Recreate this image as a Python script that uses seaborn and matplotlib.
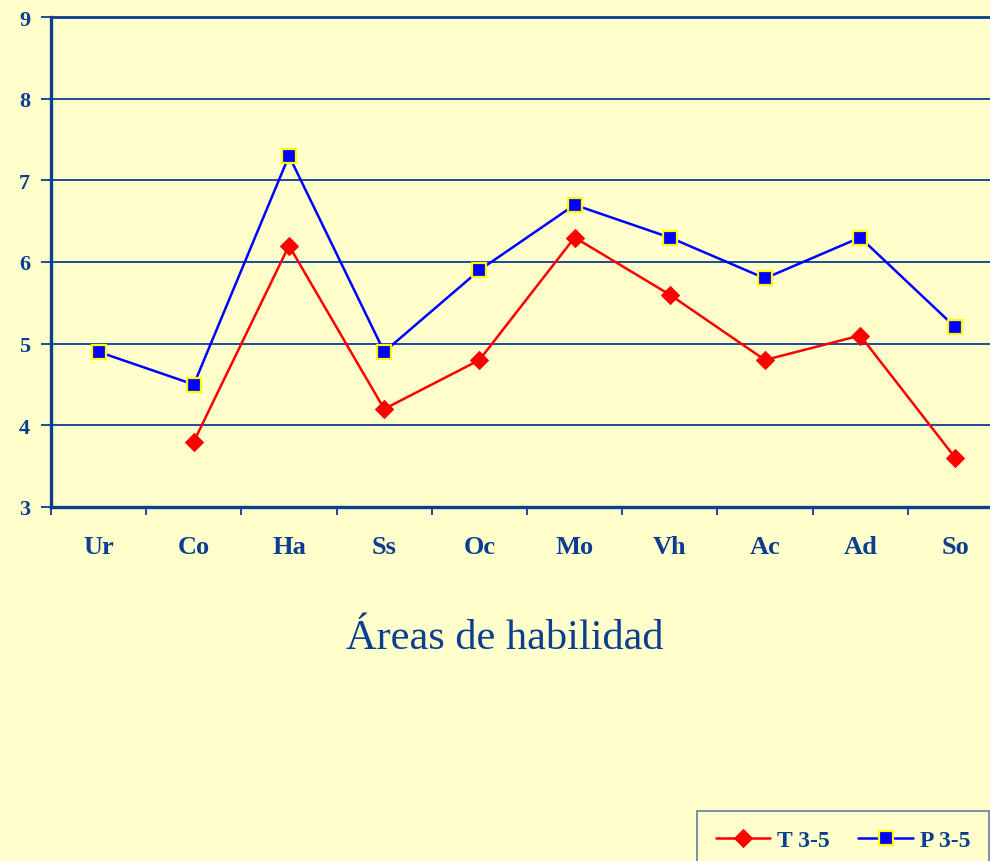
import matplotlib

matplotlib.use("Agg")
import matplotlib.pyplot as plt
import numpy as np
import pandas as pd
import seaborn as sns
from matplotlib.ticker import FixedLocator

# Data
areas = ["Ur", "Co", "Ha", "Ss", "Oc", "Mo", "Vh", "Ac", "Ad", "So"]
t_values = [np.nan, 3.8, 6.2, 4.2, 4.8, 6.3, 5.6, 4.8, 5.1, 3.6]
p_values = [4.9, 4.5, 7.3, 4.9, 5.9, 6.7, 6.3, 5.8, 6.3, 5.2]
series_names = ["T 3-5", "P 3-5"]
y_ticks = [3, 4, 5, 6, 7, 8, 9]

bg = "#ffffcc"
navy = "#0b3d91"

sns.set_theme(style="white")
plt.rcParams["font.family"] = ["Liberation Serif", "DejaVu Serif"]

df = pd.DataFrame({"x": np.arange(len(areas)), "T": t_values, "P": p_values})

fig = plt.figure(figsize=(9.9, 8.62), dpi=100, facecolor=bg)
ax = fig.add_axes([51 / 990, 1 - 508 / 862, 952 / 990, 490 / 862])
ax.set_facecolor(bg)

for y in y_ticks[1:]:
    ax.axhline(y, color=navy, lw=1.3, zorder=1)

sns.lineplot(data=df, x="x", y="T", ax=ax, color="#ff0000", lw=1.8,
             marker="D", markersize=9, markeredgecolor="#ff0000",
             label=series_names[0], zorder=3)
sns.lineplot(data=df, x="x", y="P", ax=ax, color="#0000ff", lw=1.8,
             marker="s", markersize=10, markeredgecolor="#ffff00",
             markeredgewidth=1.6, label=series_names[1], zorder=4)

ax.set_xlim(-0.5, len(areas) - 0.5)
ax.set_ylim(3, 9)
ax.set_yticks(y_ticks)
ax.set_yticklabels([str(v) for v in y_ticks], fontsize=16, fontweight="bold", color=navy)
ax.set_xticks(np.arange(len(areas)))
ax.set_xticklabels(areas, fontsize=19, fontweight="bold", color=navy)
ax.xaxis.set_minor_locator(FixedLocator(np.arange(len(areas)) - 0.5))
ax.tick_params(axis="x", which="major", length=0, pad=20)
ax.tick_params(axis="x", which="minor", length=6, width=1.3, color=navy, direction="out", bottom=True)
ax.tick_params(axis="y", length=7, width=1.3, color=navy, direction="out", left=True, pad=8)

ax.set_xlabel("")
ax.set_ylabel("")
for side in ["left", "bottom"]:
    ax.spines[side].set_color(navy)
    ax.spines[side].set_linewidth(2.4)
ax.spines["top"].set_color(navy)
ax.spines["top"].set_linewidth(2.0)
ax.spines["right"].set_visible(False)

fig.text(505 / 990, 1 - 649 / 862, "Áreas de habilidad", ha="center", va="baseline",
         fontsize=30.5, color=navy)

handles, labels = ax.get_legend_handles_labels()
ax.get_legend().remove()
leg = fig.legend(handles, labels, loc="upper left", bbox_to_anchor=(697 / 990, 50 / 862),
                 borderaxespad=0, ncol=2, frameon=True, fancybox=False, handlelength=2.3,
                 columnspacing=1.2, handletextpad=0.3, borderpad=0.8,
                 prop={"family": "Liberation Serif", "weight": "bold", "size": 17})
leg.get_frame().set_facecolor(bg)
leg.get_frame().set_edgecolor("#3a5a9a")
leg.get_frame().set_linewidth(1.2)
for txt in leg.get_texts():
    txt.set_color(navy)

fig.savefig("out.png", dpi=100, facecolor=bg)
